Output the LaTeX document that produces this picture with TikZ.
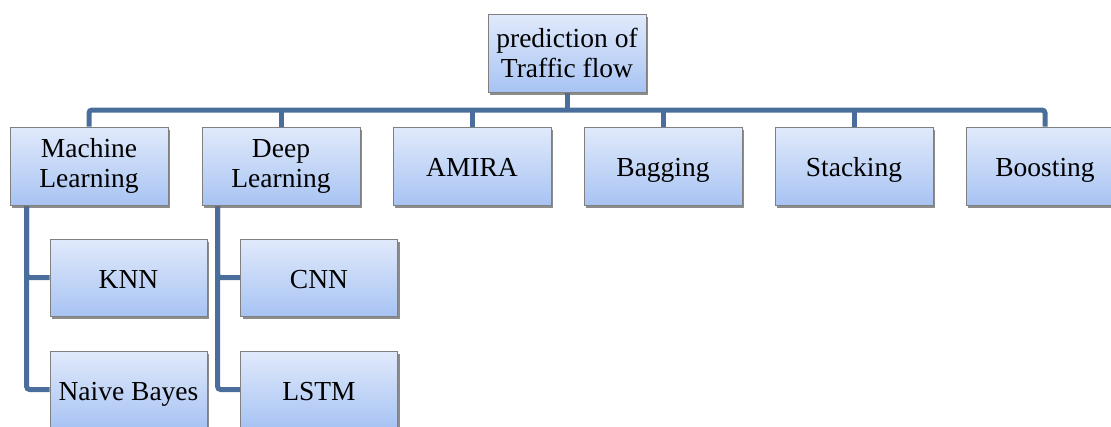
\documentclass[tikz,border=0pt]{standalone}
\usepackage{fontspec}
\setmainfont{Liberation Serif}
\usetikzlibrary{shadows,calc}
\definecolor{conncol}{HTML}{4A6E9B}
\definecolor{boxtop}{HTML}{E0EAFB}
\definecolor{boxbot}{HTML}{A8C3F3}
\definecolor{boxline}{HTML}{808080}
\tikzset{
  box/.style={draw=boxline, line width=0.8pt, top color=boxtop, bottom color=boxbot,
    minimum width=158pt, minimum height=78pt, align=center, inner sep=0pt,
    font=\fontsize{27.5}{30}\selectfont,
    drop shadow={shadow xshift=2pt, shadow yshift=-3pt, opacity=0.5, fill=black!60}},
  onebox/.style={box, text height=21pt, text depth=0pt},
  smallbox/.style={onebox, minimum width=157pt, minimum height=77pt},
  conn/.style={draw=conncol, line width=5pt, rounded corners=3pt}
}
\begin{document}
\begin{tikzpicture}[x=1pt,y=-1pt]
\useasboundingbox (0,0) rectangle (1111,426);
\clip (0,0) rectangle (1111,426);
\coordinate (bus) at (567,110);
\node[box] (top) at (567,53) {prediction of\\Traffic flow};
\node[box] (ml) at (89,166) {Machine\\Learning};
\node[box] (dl) at (281,166) {Deep\\Learning};
\node[onebox] (amira) at (472,166) {AMIRA};
\node[onebox] (bag) at (663,166) {Bagging};
\node[onebox] (stack) at (854,166) {Stacking};
\node[onebox] (boost) at (1045,166) {Boosting};
\node[smallbox] (knn) at (128.5,277.5) {KNN};
\node[smallbox] (nb) at (128.5,389.5) {Naive Bayes};
\node[smallbox] (cnn) at (319,277.5) {CNN};
\node[smallbox] (lstm) at (319,389.5) {LSTM};
% bus and drops
\draw[conn] (top.south) -- (top.south |- bus);
\draw[conn] (ml.north) |- (bus) -| (boost.north);
\foreach \n in {dl,amira,bag,stack}{
  \draw[conn, rounded corners=0pt] (\n.north) -- (\n.north |- bus);
}
% sub-trees
\coordinate (mlt) at ($(ml.south west)+(17,0)$);
\coordinate (dlt) at ($(dl.south west)+(16,0)$);
\draw[conn] (mlt) |- (knn.west);
\draw[conn] (mlt) |- (nb.west);
\draw[conn] (dlt) |- (cnn.west);
\draw[conn] (dlt) |- (lstm.west);
% redraw boxes on top of connectors
\node[box] at (top) {prediction of\\Traffic flow};
\node[box] at (ml) {Machine\\Learning};
\node[box] at (dl) {Deep\\Learning};
\node[onebox] at (amira) {AMIRA};
\node[onebox] at (bag) {Bagging};
\node[onebox] at (stack) {Stacking};
\node[onebox] at (boost) {Boosting};
\node[smallbox] at (knn) {KNN};
\node[smallbox] at (nb) {Naive Bayes};
\node[smallbox] at (cnn) {CNN};
\node[smallbox] at (lstm) {LSTM};
\end{tikzpicture}
\end{document}
